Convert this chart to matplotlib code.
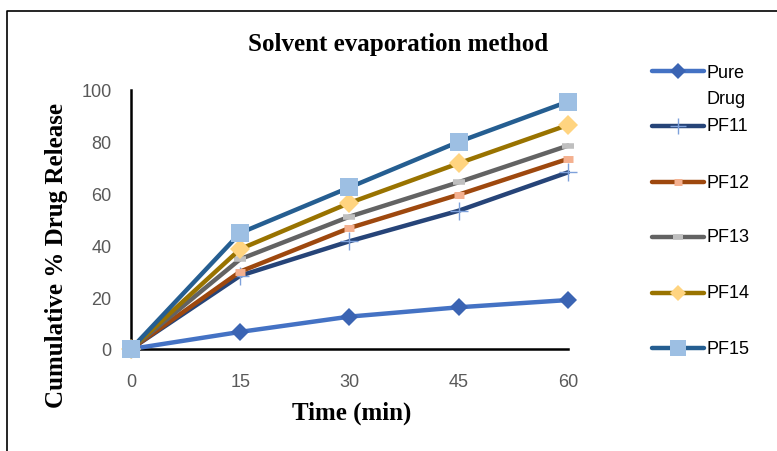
import numpy as np
import matplotlib.pyplot as plt
from matplotlib.lines import Line2D

# data
time_min = [0, 15, 30, 45, 60]
pure_drug = [0, 6.6, 12.5, 16.1, 18.9]
pf11 = [0, 28.3, 41.6, 53.4, 68.2]
pf12 = [0, 29.9, 46.7, 59.6, 73.4]
pf13 = [0, 34.7, 51.1, 64.4, 78.5]
pf14 = [0, 38.6, 56.4, 71.7, 86.5]
pf15 = [0, 44.8, 62.4, 80.0, 95.5]

labels = ['Pure\nDrug', 'PF11', 'PF12', 'PF13', 'PF14', 'PF15']
series = [pure_drug, pf11, pf12, pf13, pf14, pf15]

# line colour, marker, marker colour, marker size, marker edge width
styles = [
    ('#4472C4', 'D', '#3B64B3', 9, 0),
    ('#264478', '+', '#7EA1DB', 13, 1.0),
    ('#9E480E', '_', '#F4B08F', 7, 5),
    ('#636363', '_', '#BFBFBF', 8, 4),
    ('#997300', 'D', '#FFD480', 10, 0),
    ('#255E91', 's', '#9DBFE3', 13, 0),
]

fig = plt.figure(figsize=(7.77, 4.52), dpi=100)
ax = fig.add_axes([0.1686, 0.2257, 0.5624, 0.573])

for y, (lc, mk, mc, ms, mew) in zip(series, styles):
    ax.plot(time_min, y, color=lc, lw=3.2, marker=mk, ms=ms,
            mfc=mc, mec=mc, mew=mew, clip_on=False, zorder=3,
            solid_capstyle='round')

ax.set_xlim(0, 60)
ax.set_ylim(0, 100)
ax.set_xticks(time_min)
ax.set_yticks([0, 20, 40, 60, 80, 100])
for s in ['top', 'right']:
    ax.spines[s].set_visible(False)
for s in ['left', 'bottom']:
    ax.spines[s].set_linewidth(1.8)
    ax.spines[s].set_color('black')
ax.tick_params(length=0, labelsize=13, labelcolor='#595959')
ax.tick_params(axis='x', pad=17)
ax.tick_params(axis='y', pad=14)
for t in ax.get_xticklabels() + ax.get_yticklabels():
    t.set_family('Liberation Sans')

fig.text(398/777, 1 - 45/452, 'Solvent evaporation method', ha='center', va='center',
         family='Liberation Serif', weight='bold', fontsize=18)
fig.text(352/777, 1 - 413/452, 'Time (min)', ha='center', va='center',
         family='Liberation Serif', weight='bold', fontsize=18)
fig.text(57/777, 1 - 256/452, 'Cumulative % Drug Release', ha='center', va='center',
         rotation=90, family='Liberation Serif', weight='bold', fontsize=18)

# legend, drawn by hand to match spacing
leg_y = [72, 127, 183, 238, 294, 349]
for yy, lab, (lc, mk, mc, ms, mew) in zip(leg_y, labels, styles):
    fy = 1 - yy / 452
    fig.add_artist(Line2D([652/777, 704/777], [fy, fy], transform=fig.transFigure,
                          color=lc, lw=3.2, solid_capstyle='round'))
    fig.add_artist(Line2D([678/777], [fy], transform=fig.transFigure, marker=mk,
                          ms=ms * 0.85, mfc=mc, mec=mc, mew=mew, lw=0))
    if '\n' in lab:
        fig.text(707/777, 1 - (yy - 7) / 452, lab, ha='left', va='top',
                 family='Liberation Sans', fontsize=13, linespacing=1.7)
    else:
        fig.text(707/777, fy, lab, ha='left', va='center',
                 family='Liberation Sans', fontsize=13)

# outer frame (left and top edges visible)
fig.add_artist(Line2D([7/777, 7/777, 1], [0, 1 - 12/452, 1 - 12/452],
                      transform=fig.transFigure, color='black', lw=1.2))

fig.savefig('out.png', dpi=100)
